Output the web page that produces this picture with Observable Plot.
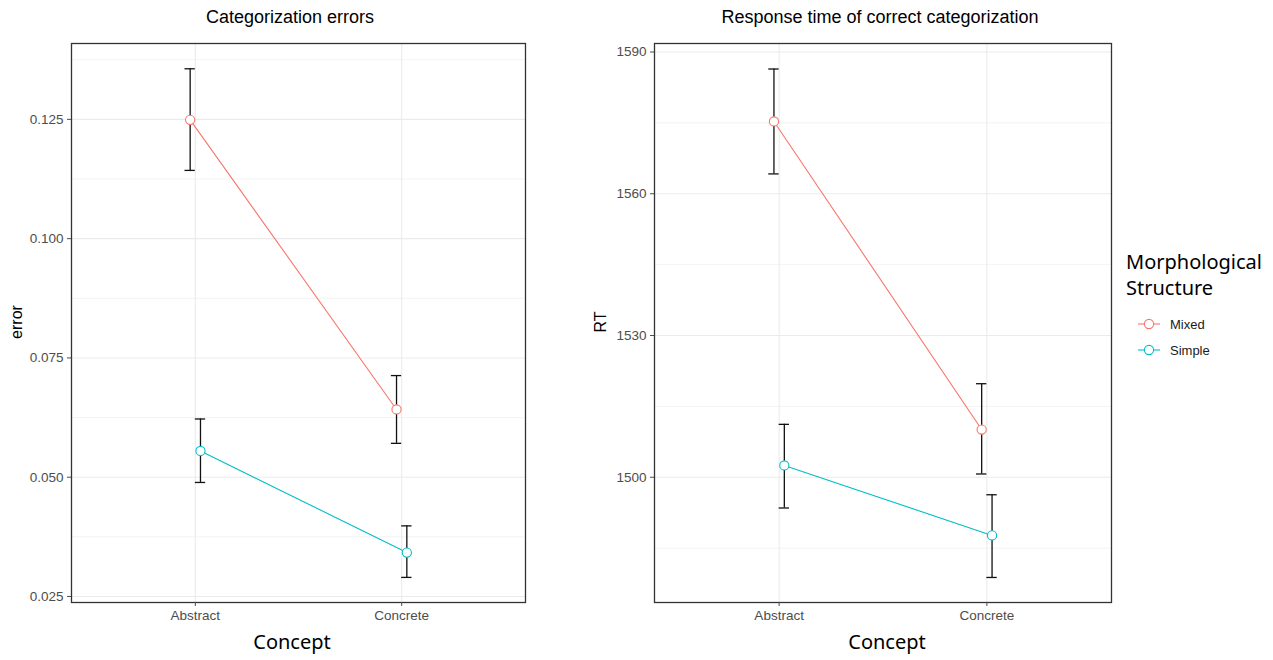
<!DOCTYPE html>
<html>
<head>
<meta charset="utf-8">
<script src="https://cdn.jsdelivr.net/npm/d3@7"></script>
<script src="https://cdn.jsdelivr.net/npm/@observablehq/plot@0.6"></script>
<style>
  body { margin: 0; background: #fff; }
  #wrap { position: relative; width: 1273px; height: 660px; overflow: hidden; background: #fff; }
  .abs { position: absolute; white-space: nowrap; }
  .title { font-family: "Liberation Sans", Arial, sans-serif; font-size: 18px; color: #000; transform: translate(-50%, 0); }
  .xlab { font-family: "Noto Sans", sans-serif; font-size: 20px; color: #000; transform: translate(-50%, 0); }
  .ylab { font-family: "Liberation Sans", Arial, sans-serif; font-size: 16px; color: #000; transform: translate(-50%, -50%) rotate(-90deg); }
  .legtitle { font-family: "Noto Sans", sans-serif; font-size: 20px; line-height: 26px; color: #000; }
  .legitem { font-family: "Liberation Sans", Arial, sans-serif; font-size: 13px; color: #1a1a1a; display: flex; align-items: center; }
</style>
</head>
<body>
<div id="wrap"></div>
<script>
// ---- data ----
const concepts = ["Abstract", "Concrete"];
const structures = ["Mixed", "Simple"];
const colors = ["#F8766D", "#00BFC4"];

const errorMixed   = [0.1249, 0.0642];
const errorMixedLo = [0.1143, 0.0571];
const errorMixedHi = [0.1356, 0.0713];
const errorSimple   = [0.0555, 0.0342];
const errorSimpleLo = [0.0489, 0.0290];
const errorSimpleHi = [0.0622, 0.0398];

const rtMixed   = [1575.3, 1510.1];
const rtMixedLo = [1564.2, 1500.7];
const rtMixedHi = [1586.4, 1519.8];
const rtSimple   = [1502.5, 1487.7];
const rtSimpleLo = [1493.5, 1478.8];
const rtSimpleHi = [1511.2, 1496.3];

const errorTicks = [0.025, 0.050, 0.075, 0.100, 0.125];
const errorMinor = [0.0375, 0.0625, 0.0875, 0.1125, 0.1375];
const rtTicks = [1500, 1530, 1560, 1590];
const rtMinor = [1485, 1515, 1545, 1575];

const dodge = 0.025;   // position_dodge half-offset (data units)
const capHalf = 0.025; // errorbar half-width (data units)

function rows(mix, mixLo, mixHi, sim, simLo, simHi) {
  const out = [];
  const series = {Mixed: [mix, mixLo, mixHi], Simple: [sim, simLo, simHi]};
  structures.forEach((s, si) => {
    const [m, lo, hi] = series[s];
    concepts.forEach((c, i) => {
      const xi = i + (si === 0 ? -dodge : dodge);
      out.push({structure: s, concept: c, xi, x1: xi - capHalf, x2: xi + capHalf, mean: m[i], lo: lo[i], hi: hi[i]});
    });
  });
  return out;
}

function panel({data, yDomain, ticks, minor, fmt, width, marginLeft, marginRight}) {
  return Plot.plot({
    width, height: 660,
    marginLeft, marginRight, marginTop: 43, marginBottom: 58,
    x: {domain: [-0.6, 1.6]},
    y: {domain: yDomain},
    color: {domain: structures, range: colors},
    style: {fontFamily: "'Liberation Sans', Arial, sans-serif", fontSize: "13.5px", color: "#4d4d4d", background: "white"},
    marks: [
      Plot.ruleY(minor, {stroke: "#ebebeb", strokeWidth: 0.6}),
      Plot.ruleY(ticks, {stroke: "#ebebeb", strokeWidth: 1.1}),
      Plot.ruleX([0, 1], {stroke: "#ebebeb", strokeWidth: 1.1}),
      Plot.line(data, {x: "xi", y: "mean", z: "structure", stroke: "structure", strokeWidth: 1.1}),
      Plot.ruleX(data, {x: "xi", y1: "lo", y2: "hi", stroke: "#111", strokeWidth: 1.3}),
      Plot.ruleY(data, {x1: "x1", x2: "x2", y: "hi", stroke: "#111", strokeWidth: 1.3}),
      Plot.ruleY(data, {x1: "x1", x2: "x2", y: "lo", stroke: "#111", strokeWidth: 1.3}),
      Plot.dot(data, {x: "xi", y: "mean", stroke: "structure", fill: "white", r: 4.6, strokeWidth: 1.1}),
      Plot.frame({stroke: "#333", strokeWidth: 1.3}),
      Plot.axisX({ticks: [0, 1], tickFormat: i => concepts[i], tickSize: 4, tickPadding: 4, label: null}),
      Plot.axisY({ticks, tickFormat: fmt, tickSize: 4, tickPadding: 4, label: null})
    ]
  });
}

const wrap = document.getElementById("wrap");

function place(node, left, top) {
  const d = document.createElement("div");
  d.className = "abs";
  d.style.left = left + "px";
  d.style.top = top + "px";
  d.appendChild(node);
  wrap.appendChild(d);
}
function label(text, cls, left, top) {
  const d = document.createElement("div");
  d.className = "abs " + cls;
  d.style.left = left + "px";
  d.style.top = top + "px";
  d.textContent = text;
  wrap.appendChild(d);
}

const left = panel({
  data: rows(errorMixed, errorMixedLo, errorMixedHi, errorSimple, errorSimpleLo, errorSimpleHi),
  yDomain: [0.02374, 0.1409], ticks: errorTicks, minor: errorMinor, fmt: d3.format(".3f"),
  width: 560, marginLeft: 71, marginRight: 35
});
place(left, 0, 0);

const right = panel({
  data: rows(rtMixed, rtMixedLo, rtMixedHi, rtSimple, rtSimpleLo, rtSimpleHi),
  yDomain: [1473.5, 1591.8], ticks: rtTicks, minor: rtMinor, fmt: d3.format("d"),
  width: 540, marginLeft: 69, marginRight: 14
});
place(right, 585, 0);

// titles
label("Categorization errors", "title", 290, 7);
label("Response time of correct categorization", "title", 880, 7);
label("Concept", "xlab", 292, 628);
label("Concept", "xlab", 887, 628);
label("error", "ylab", 17, 322);
label("RT", "ylab", 601, 322);

// legend
const lt = document.createElement("div");
lt.className = "abs legtitle";
lt.style.left = "1126px";
lt.style.top = "249px";
lt.innerHTML = "Morphological<br>Structure";
wrap.appendChild(lt);

structures.forEach((s, i) => {
  const item = document.createElement("div");
  item.className = "abs legitem";
  item.style.left = "1137px";
  item.style.top = (324 + i * 26 - 9) + "px";
  item.style.height = "18px";
  const svg = d3.create("svg").attr("width", 26).attr("height", 18);
  svg.append("line").attr("x1", 1).attr("x2", 23).attr("y1", 9).attr("y2", 9)
    .attr("stroke", colors[i]).attr("stroke-width", 1.1);
  svg.append("circle").attr("cx", 12).attr("cy", 9).attr("r", 4.6)
    .attr("fill", "white").attr("stroke", colors[i]).attr("stroke-width", 1.1);
  item.appendChild(svg.node());
  const t = document.createElement("span");
  t.style.marginLeft = "7px";
  t.textContent = s;
  item.appendChild(t);
  wrap.appendChild(item);
});
</script>
</body>
</html>
